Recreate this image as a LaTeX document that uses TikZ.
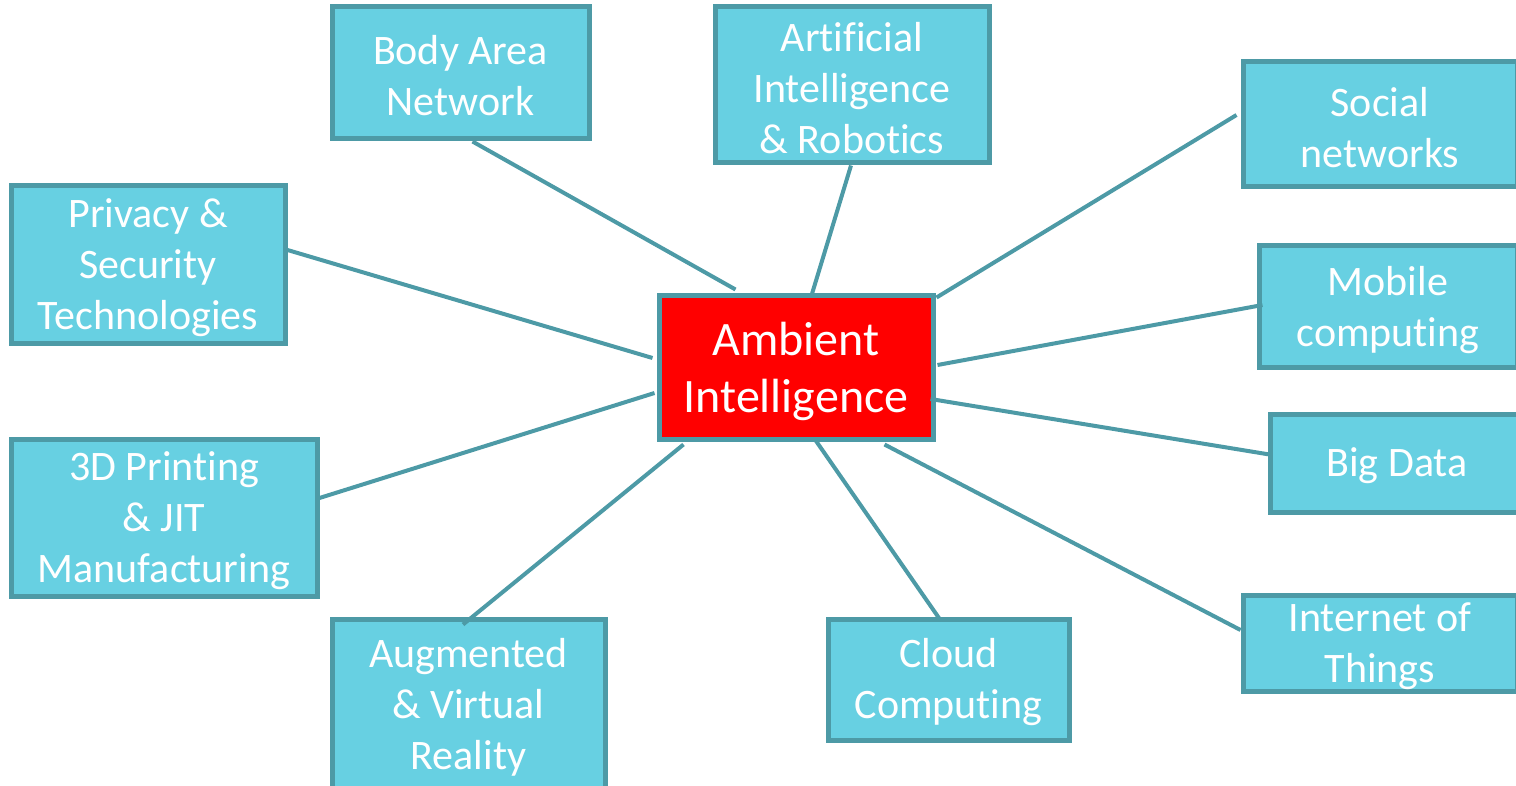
\documentclass[tikz,border=0pt]{standalone}
\usepackage{fontspec}
\setmainfont{Carlito}[Ligatures={CommonOff,ContextualOff}, RawFeature={-liga;-clig;-dlig}]
\definecolor{boxfill}{HTML}{67D0E2}
\definecolor{boxline}{HTML}{4D9AA6}
\begin{document}
\begin{tikzpicture}[x=1pt,y=-1pt,
  box/.style={draw=boxline, line width=5pt, fill=boxfill, inner sep=0pt},
  txt/.style={text=white, align=center, inner sep=0pt, yshift=-3pt, font=\fontsize{42}{51}\selectfont},
  hub/.style={draw=boxline, line width=5pt, fill=red, inner sep=0pt},
  hubtxt/.style={text=white, align=center, inner sep=0pt, yshift=-3.5pt, font=\fontsize{48}{57}\selectfont},
  link/.style={draw=boxline, line width=4pt}]
\useasboundingbox (0,0) rectangle (1516,786);
\clip (0,0) rectangle (1516,786);
\node[hub, minimum width=274pt, minimum height=143pt, label={[hubtxt]center:{Ambient\\Intelligence}}] (c) at (796,367.5) {};
\node[box, minimum width=257pt, minimum height=132pt, label={[txt]center:{Body Area\\Network}}] (ba) at (460.5,73) {};
\node[box, minimum width=274pt, minimum height=156pt, label={[txt]center:{Artificial\\Intelligence\\\&~Robotics}}] (ai) at (852,85) {};
\node[box, minimum width=274pt, minimum height=125pt, label={[txt]center:{Social\\networks}}] (sn) at (1380,124.5) {};
\node[box, minimum width=258pt, minimum height=122pt, label={[txt]center:{Mobile\\computing}}] (mc) at (1388,307) {};
\node[box, minimum width=254pt, minimum height=98pt, label={[txt]center:{Big Data}}] (bd) at (1397,463) {};
\node[box, minimum width=274pt, minimum height=96pt, label={[txt]center:{Internet of\\Things}}] (iot) at (1380,643) {};
\node[box, minimum width=241pt, minimum height=121pt, label={[txt]center:{Cloud\\Computing}}] (cc) at (948.5,679.5) {};
\node[box, minimum width=273pt, minimum height=170pt, label={[txt]center:{Augmented\\\&~Virtual\\Reality}}] (ar) at (468.5,704) {};
\node[box, minimum width=306pt, minimum height=157pt, label={[txt]center:{3D Printing\\\&~JIT\\Manufacturing}}] (pr3d) at (164,517.5) {};
\node[box, minimum width=274pt, minimum height=158pt, label={[txt]center:{Privacy \&\\Security\\Technologies}}] (ps) at (148,265) {};
\draw[link] ([xshift=12pt]ba.south) -- ([xshift=79pt,yshift=4pt]c.north west);
\draw[link] ([xshift=-1pt]ai.south) -- ([xshift=155pt,yshift=-2pt]c.north west);
\draw[link] ([xshift=-4pt,yshift=9.5pt]sn.west) -- ([xshift=1pt,yshift=-4pt]c.north east);
\draw[link] ([xshift=6pt,yshift=2pt]mc.west) -- ([xshift=2pt,yshift=2.5pt]c.east);
\draw[link] ([xshift=5pt,yshift=8pt]bd.west) -- ([xshift=-5pt,yshift=-31.5pt]c.east);
\draw[link] ([yshift=13pt]iot.west) -- ([xshift=-51pt,yshift=-3pt]c.south east);
\draw[link] ([xshift=-8.5pt,yshift=-3pt]cc.north) -- ([xshift=19pt,yshift=2pt]c.south);
\draw[link] ([xshift=-5.5pt,yshift=-8pt]ar.north) -- ([xshift=27pt,yshift=-3pt]c.south west);
\draw[link] ([yshift=19.5pt]pr3d.east) -- ([xshift=-2pt,yshift=-25.5pt]c.west);
\draw[link] ([yshift=15pt]ps.east) -- ([xshift=-4pt,yshift=9.5pt]c.west);
\end{tikzpicture}
\end{document}
